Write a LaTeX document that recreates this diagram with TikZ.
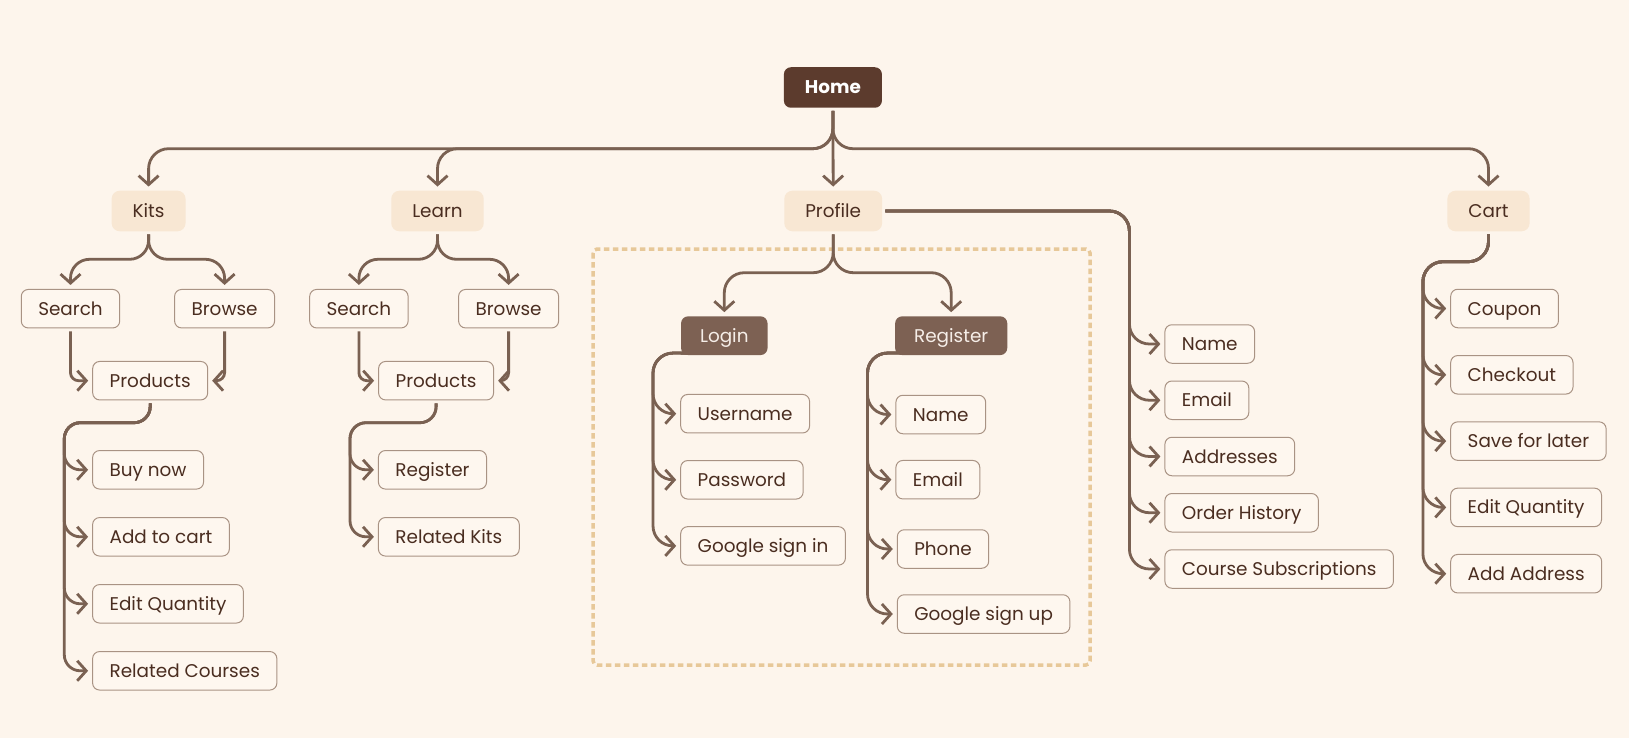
\documentclass[tikz,border=0pt]{standalone}
\usepackage{fontspec}
\setmainfont{Poppins}
\usetikzlibrary{positioning,arrows.meta}

\definecolor{paper}{HTML}{FDF5EC}
\definecolor{wire}{HTML}{7A6152}
\definecolor{homefill}{HTML}{5C3B2D}
\definecolor{mainfill}{HTML}{F8E7D3}
\definecolor{darkfill}{HTML}{7D6153}
\definecolor{darktext}{HTML}{F6EEE8}
\definecolor{leafline}{HTML}{A99384}
\definecolor{leaffill}{HTML}{FEF7EF}
\definecolor{ink}{HTML}{4A2D20}
\definecolor{dashcol}{HTML}{E7C899}

\pgfdeclarelayer{paperlayer}
\pgfdeclarelayer{wires}
\pgfsetlayers{paperlayer,wires,main}

\begin{document}
\begin{tikzpicture}[x=1pt, y=-1pt, font=\fontsize{18.4}{21}\selectfont, text=ink,
    box/.style={rounded corners=7pt, minimum height=38.5pt, inner xsep=17pt, inner ysep=0pt, text height=13pt, text depth=0pt},
    homebox/.style={box, fill=homefill, text=white, font=\fontsize{18.4}{21}\selectfont\bfseries, minimum height=40.5pt, inner xsep=21pt},
    mainbox/.style={box, fill=mainfill, minimum height=40.5pt, rounded corners=8pt, inner xsep=21pt},
    darkbox/.style={box, fill=darkfill, text=darktext, minimum height=38.7pt, inner xsep=19pt},
    leaf/.style={box, draw=leafline, line width=1pt, fill=leaffill},
    link/.style={draw=wire, line width=2.8pt, rounded corners=20pt, shorten >=4pt, shorten <=3pt, -{Straight Barb[length=9pt,width=20pt]}},
    groupframe/.style={draw=dashcol, line width=3.5pt, dash pattern=on 5.5pt off 3.5pt, rounded corners=4pt}]
    \begin{pgfonlayer}{paperlayer}
        \path[use as bounding box, fill=paper] (0,0) rectangle (1629,738);
    \end{pgfonlayer}

    \node[homebox] (home) at (832.9,87.5) {Home};
    \node[mainbox] (kits) at (148.6,211) {Kits};
    \node[mainbox] (learn) at (437.5,211) {Learn};
    \node[mainbox] (profile) at (833.2,211) {Profile};
    \node[mainbox] (cart) at (1488.5,211) {Cart};

    \node[leaf] (kitssearch) at (70.5,308.7) {Search};
    \node[leaf] (kitsbrowse) at (224.6,308.7) {Browse};
    \node[leaf] (kitsproducts) at (150.2,380.7) {Products};
    \node[leaf, anchor=west] (buynow) at (92.1,469.8) {Buy now};
    \node[leaf, below right=27.5pt and 0pt of buynow.south west] (addcart) {Add to cart};
    \node[leaf, below right=27.5pt and 0pt of addcart.south west] (kitsedit) {Edit Quantity};
    \node[leaf, below right=27.5pt and 0pt of kitsedit.south west] (relcourses) {Related Courses};

    \node[leaf] (learnsearch) at (358.9,308.7) {Search};
    \node[leaf] (learnbrowse) at (508.6,308.7) {Browse};
    \node[leaf] (learnproducts) at (436.1,380.7) {Products};
    \node[leaf, anchor=west] (learnregister) at (377.9,469.8) {Register};
    \node[leaf, below right=27.5pt and 0pt of learnregister.south west] (relkits) {Related Kits};

    \node[darkbox] (login) at (724.3,335.7) {Login};
    \node[darkbox] (register) at (951.2,335.7) {Register};
    \node[leaf, anchor=west] (username) at (680.2,413.7) {Username};
    \node[leaf, below right=26.6pt and 0pt of username.south west] (password) {Password};
    \node[leaf, below right=26.6pt and 0pt of password.south west] (gsignin) {Google sign in};
    \node[leaf, anchor=west] (regname) at (895.4,414.5) {Name};
    \node[leaf, below right=25.7pt and 0pt of regname.south west] (regemail) {Email};
    \node[leaf, below right=29.8pt and 1.4pt of regemail.south west] (regphone) {Phone};
    \node[leaf, below right=25.5pt and 0pt of regphone.south west] (gsignup) {Google sign up};

    \node[leaf, anchor=west] (name) at (1164.4,344) {Name};
    \node[leaf, below right=16.75pt and 0pt of name.south west] (email) {Email};
    \node[leaf, below right=16.75pt and 0pt of email.south west] (addresses) {Addresses};
    \node[leaf, below right=16.75pt and 0pt of addresses.south west] (orders) {Order History};
    \node[leaf, below right=16.75pt and 0pt of orders.south west] (subscriptions) {Course Subscriptions};

    \node[leaf, anchor=west] (coupon) at (1450.2,308.5) {Coupon};
    \node[leaf, below right=26.8pt and 0pt of coupon.south west] (checkout) {Checkout};
    \node[leaf, below right=26.8pt and 0pt of checkout.south west] (savelater) {Save for later};
    \node[leaf, below right=26.8pt and 0pt of savelater.south west] (cartedit) {Edit Quantity};
    \node[leaf, below right=26.8pt and 0pt of cartedit.south west] (addaddress) {Add Address};

    \coordinate (bus) at (832.9,148.7);
    \coordinate (kitssplit) at (148.6,259.3);
    \coordinate (kitsspine) at (64.3,422.7);
    \coordinate (learnsplit) at (437.5,259.3);
    \coordinate (learnspine) at (350,422.7);
    \coordinate (profsplit) at (833.2,272.7);
    \coordinate (loginspine) at (653,353);
    \coordinate (regspine) at (867.5,353);
    \coordinate (profspine) at (1129.4,211);
    \coordinate (cartsplit) at (1488.5,261.7);
    \coordinate (cartspine) at (1422.9,261.7);

    \begin{pgfonlayer}{wires}
        \draw[groupframe] (593.1,249) rectangle (1090,665);

        \draw[link] (home.south) -- (bus) -- (bus -| kits) -- (kits.north);
        \draw[link] (home.south) -- (bus) -- (bus -| learn) -- (learn.north);
        \draw[link] (home.south) -- (profile.north);
        \draw[link] (home.south) -- (bus) -- (bus -| cart) -- (cart.north);

        \draw[link, rounded corners=19pt] (kits.south) -- (kitssplit) -- (kitssplit -| kitssearch) -- (kitssearch.north);
        \draw[link, rounded corners=19pt] (kits.south) -- (kitssplit) -- (kitssplit -| kitsbrowse) -- (kitsbrowse.north);
        \draw[link, rounded corners=8pt] (kitssearch.south) |- (kitsproducts.west);
        \draw[link, rounded corners=8pt] (kitsbrowse.south) |- (kitsproducts.east);
        \draw[link, rounded corners=16pt] (kitsproducts.south) -- (kitsproducts.south |- kitsspine) -- (kitsspine) |- (buynow.west);
        \draw[link, rounded corners=16pt] (kitsproducts.south) -- (kitsproducts.south |- kitsspine) -- (kitsspine) |- (addcart.west);
        \draw[link, rounded corners=16pt] (kitsproducts.south) -- (kitsproducts.south |- kitsspine) -- (kitsspine) |- (kitsedit.west);
        \draw[link, rounded corners=16pt] (kitsproducts.south) -- (kitsproducts.south |- kitsspine) -- (kitsspine) |- (relcourses.west);

        \draw[link, rounded corners=19pt] (learn.south) -- (learnsplit) -- (learnsplit -| learnsearch) -- (learnsearch.north);
        \draw[link, rounded corners=19pt] (learn.south) -- (learnsplit) -- (learnsplit -| learnbrowse) -- (learnbrowse.north);
        \draw[link, rounded corners=8pt] (learnsearch.south) |- (learnproducts.west);
        \draw[link, rounded corners=8pt] (learnbrowse.south) |- (learnproducts.east);
        \draw[link, rounded corners=16pt] (learnproducts.south) -- (learnproducts.south |- learnspine) -- (learnspine) |- (learnregister.west);
        \draw[link, rounded corners=16pt] (learnproducts.south) -- (learnproducts.south |- learnspine) -- (learnspine) |- (relkits.west);

        \draw[link] (profile.south) -- (profsplit) -- (profsplit -| login) -- (login.north);
        \draw[link] (profile.south) -- (profsplit) -- (profsplit -| register) -- (register.north);
        \draw[link] ([yshift=2pt]login.south) -- (loginspine) |- (username.west);
        \draw[link] ([yshift=2pt]login.south) -- (loginspine) |- (password.west);
        \draw[link] ([yshift=2pt]login.south) -- (loginspine) |- (gsignin.west);
        \draw[link] ([yshift=2pt]register.south) -- (regspine) |- (regname.west);
        \draw[link] ([yshift=2pt]register.south) -- (regspine) |- (regemail.west);
        \draw[link] ([yshift=2pt]register.south) -- (regspine) |- (regphone.west);
        \draw[link] ([yshift=2pt]register.south) -- (regspine) |- (gsignup.west);

        \draw[link] (profile.east) -- (profspine) |- (name.west);
        \draw[link] (profile.east) -- (profspine) |- (email.west);
        \draw[link] (profile.east) -- (profspine) |- (addresses.west);
        \draw[link] (profile.east) -- (profspine) |- (orders.west);
        \draw[link] (profile.east) -- (profspine) |- (subscriptions.west);

        \draw[link] (cart.south) -- (cartsplit) -- (cartspine) |- (coupon.west);
        \draw[link] (cart.south) -- (cartsplit) -- (cartspine) |- (checkout.west);
        \draw[link] (cart.south) -- (cartsplit) -- (cartspine) |- (savelater.west);
        \draw[link] (cart.south) -- (cartsplit) -- (cartspine) |- (cartedit.west);
        \draw[link] (cart.south) -- (cartsplit) -- (cartspine) |- (addaddress.west);
    \end{pgfonlayer}
\end{tikzpicture}
\end{document}
